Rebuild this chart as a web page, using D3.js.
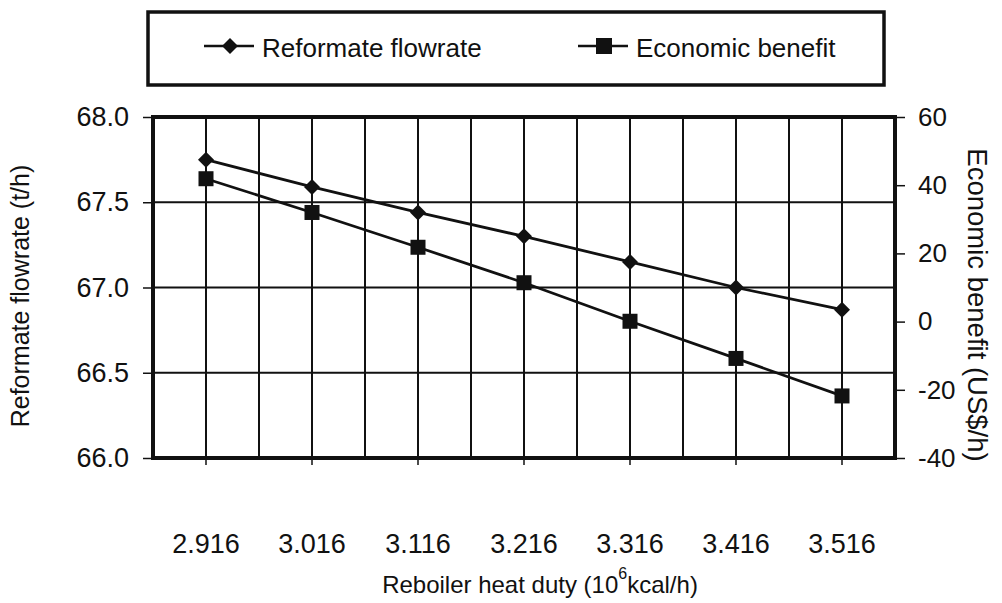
<!DOCTYPE html>
<html><head><meta charset="utf-8">
<script src="https://cdn.jsdelivr.net/npm/d3@7"></script>
<style>
html,body{margin:0;padding:0;background:#fff;}
text{font-family:"Liberation Sans",Arial,sans-serif;fill:#111;}
</style></head>
<body>
<svg id="chart" width="1002" height="603"></svg>
<script>
const categories = ["2.916","3.016","3.116","3.216","3.316","3.416","3.516"];
const reformateFlowrate = [67.75, 67.59, 67.44, 67.30, 67.15, 67.00, 66.87];
const economicBenefit = [41.9, 32.0, 21.8, 11.4, 0.1, -10.8, -21.8];
const leftTicks = [66.0, 66.5, 67.0, 67.5, 68.0];
const rightTicks = [-40, -20, 0, 20, 40, 60];
const seriesNames = ["Reformate flowrate", "Economic benefit"];

const svg = d3.select("#chart");
const L = 153, R = 895, T = 117, B = 458;
const ink = "#111";

const x = d3.scaleBand().domain(categories).range([L, R]).padding(0);
const cx = c => x(c) + x.bandwidth() / 2;
const yL = d3.scaleLinear().domain([66, 68]).range([B, T]);
const yR = d3.scaleLinear().domain([-40, 60]).range([B, T]);

// gridlines
const g = svg.append("g");
const vLines = [];
categories.forEach(c => { vLines.push(x(c)); vLines.push(cx(c)); });
g.selectAll("line.v").data(vLines).join("line")
  .attr("x1", d => d).attr("x2", d => d).attr("y1", T).attr("y2", B)
  .attr("stroke", ink).attr("stroke-width", 2);
g.selectAll("line.h").data(leftTicks).join("line")
  .attr("x1", L).attr("x2", R).attr("y1", d => yL(d)).attr("y2", d => yL(d))
  .attr("stroke", ink).attr("stroke-width", 2);

// axes
const axL = d3.axisLeft(yL).tickValues(leftTicks).tickFormat(d3.format(".1f")).tickSize(10).tickPadding(14);
const axR = d3.axisRight(yR).tickValues(rightTicks).tickFormat(d => String(d)).tickSize(10).tickPadding(13);
const axB = d3.axisBottom(x).tickSize(7).tickPadding(88);

function styleAxis(sel, fs) {
  sel.select(".domain").remove();
  sel.selectAll(".tick line").attr("stroke", ink).attr("stroke-width", 1.5);
  sel.selectAll(".tick text").attr("font-size", fs).attr("fill", ink)
     .attr("font-family", "Liberation Sans, Arial, sans-serif");
}
svg.append("g").attr("transform", `translate(${L},0)`).call(axL).call(s => styleAxis(s, 27));
svg.append("g").attr("transform", `translate(${R},0)`).call(axR).call(s => styleAxis(s, 26));
svg.append("g").attr("transform", `translate(0,${B})`).call(axB).call(s => styleAxis(s, 27))
   .selectAll(".tick text").attr("dy", "0");

// plot frame
svg.append("rect").attr("x", L).attr("y", T).attr("width", R - L).attr("height", B - T)
  .attr("fill", "none").attr("stroke", ink).attr("stroke-width", 4);

// series lines
const line1 = d3.line().x((d, i) => cx(categories[i])).y(d => yL(d));
const line2 = d3.line().x((d, i) => cx(categories[i])).y(d => yR(d));
svg.append("path").attr("d", line1(reformateFlowrate)).attr("fill", "none").attr("stroke", ink).attr("stroke-width", 2.8);
svg.append("path").attr("d", line2(economicBenefit)).attr("fill", "none").attr("stroke", ink).attr("stroke-width", 2.8);

const diamondPath = "M0,-8L8,0L0,8L-8,0Z";
svg.append("g").selectAll("path").data(reformateFlowrate).join("path")
  .attr("d", diamondPath)
  .attr("transform", (d, i) => `translate(${cx(categories[i])},${yL(d)})`)
  .attr("fill", ink);
svg.append("g").selectAll("rect").data(economicBenefit).join("rect")
  .attr("x", (d, i) => cx(categories[i]) - 7.5).attr("y", d => yR(d) - 7.5)
  .attr("width", 15).attr("height", 15).attr("fill", ink);

// axis titles
svg.append("text").attr("transform", `translate(29,296) rotate(-90)`)
  .attr("text-anchor", "middle").attr("font-size", 25).text("Reformate flowrate (t/h)");
svg.append("text").attr("transform", `translate(968,305) rotate(90)`)
  .attr("text-anchor", "middle").attr("font-size", 27.5).text("Economic benefit (US$/h)");
const xt = svg.append("text").attr("x", 540).attr("y", 593)
  .attr("text-anchor", "middle").attr("font-size", 24);
xt.append("tspan").text("Reboiler heat duty (10");
xt.append("tspan").attr("dy", -14).attr("font-size", 16).text("6");
xt.append("tspan").attr("dy", 14).text("kcal/h)");

// legend
svg.append("rect").attr("x", 148).attr("y", 12).attr("width", 736).attr("height", 73)
  .attr("fill", "none").attr("stroke", ink).attr("stroke-width", 3.5);
const leg = [
  {name: seriesNames[0], lx: 204, type: "d"},
  {name: seriesNames[1], lx: 578, type: "s"}
];
const ly = 46;
leg.forEach(o => {
  svg.append("line").attr("x1", o.lx).attr("x2", o.lx + 50).attr("y1", ly).attr("y2", ly)
    .attr("stroke", ink).attr("stroke-width", 2.5);
  if (o.type === "d") {
    svg.append("path").attr("d", diamondPath).attr("transform", `translate(${o.lx + 26},${ly})`).attr("fill", ink);
  } else {
    svg.append("rect").attr("x", o.lx + 18).attr("y", ly - 8).attr("width", 16).attr("height", 16).attr("fill", ink);
  }
  svg.append("text").attr("x", o.lx + 58).attr("y", ly + 11).attr("font-size", 26).text(o.name);
});
</script>
</body></html>
